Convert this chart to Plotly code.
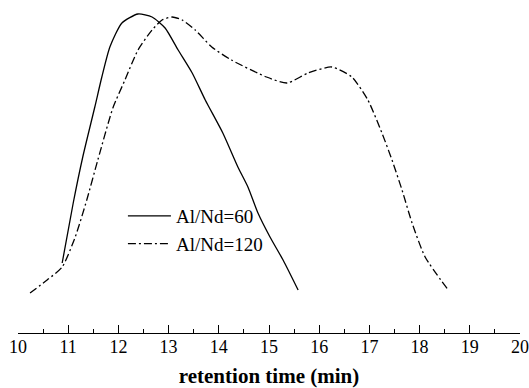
import plotly.graph_objects as go

# Al/Nd=60 (solid)
x60 = [10.88, 11.10, 11.29, 11.53, 11.67, 11.83, 12.07, 12.39, 12.67, 12.93,
       13.19, 13.47, 13.73, 14.08, 14.38, 14.58, 14.78, 15.02, 15.28, 15.58]
y60 = [69, 129, 175, 225, 255, 285, 309, 318, 315, 304,
       282, 259, 232, 199, 165, 145, 119, 95, 72, 42]

# Al/Nd=120 (dash-dot)
x120 = [10.24, 10.58, 10.88, 11.14, 11.37, 11.59, 11.89, 12.13, 12.39, 12.67,
        12.87, 13.07, 13.27, 13.53, 13.86, 14.25, 14.95, 15.36, 15.78, 16.25,
        16.65, 16.97, 17.25, 17.45, 17.65, 17.85, 18.11, 18.57]
y120 = [39, 52, 65, 95, 132, 172, 224, 252, 282, 302,
        312, 315, 312, 302, 285, 272, 255, 249, 259, 265,
        255, 232, 199, 172, 142, 109, 75, 42]

tick_vals = list(range(10, 21))
tick_text = [str(v) for v in tick_vals]

serif = "Liberation Serif, Times New Roman, serif"

fig = go.Figure()
fig.add_trace(go.Scatter(x=x60, y=y60, mode="lines", name="Al/Nd=60",
                         line=dict(color="black", width=1.3, shape="spline", smoothing=0.6)))
fig.add_trace(go.Scatter(x=x120, y=y120, mode="lines", name="Al/Nd=120",
                         line=dict(color="black", width=1.3, dash="8px,3px,2px,3px",
                                   shape="spline", smoothing=0.6)))

fig.update_layout(
    width=529, height=388,
    margin=dict(l=18, r=9, t=10, b=55),
    paper_bgcolor="white", plot_bgcolor="white",
    showlegend=True,
    legend=dict(x=0.209, y=0.421, xanchor="left", yanchor="top",
                bgcolor="rgba(0,0,0,0)", font=dict(family=serif, size=19, color="black"),
                tracegroupgap=0, itemwidth=43),
    xaxis=dict(range=[10, 20], tickvals=tick_vals, ticktext=tick_text,
               automargin=False,
               showline=True, linecolor="black", linewidth=1.2,
               ticks="inside", ticklen=8, tickwidth=1.3, tickcolor="black",
               minor=dict(dtick=0.5, ticks="inside", ticklen=4, tickwidth=1, tickcolor="black"),
               showgrid=False, zeroline=False,
               tickfont=dict(family=serif, size=18, color="black"),
               ticklabelstandoff=-3,
               title=dict(text="<b>retention time (min)</b>", font=dict(family=serif, size=21, color="black"),
                          standoff=16)),
    yaxis=dict(range=[-1, 322], visible=False, showgrid=False, zeroline=False, automargin=False),
)

fig.write_html("out.html", config={"displayModeBar": False},
               post_script="document.body.style.margin='0px';document.body.style.padding='0px';")
